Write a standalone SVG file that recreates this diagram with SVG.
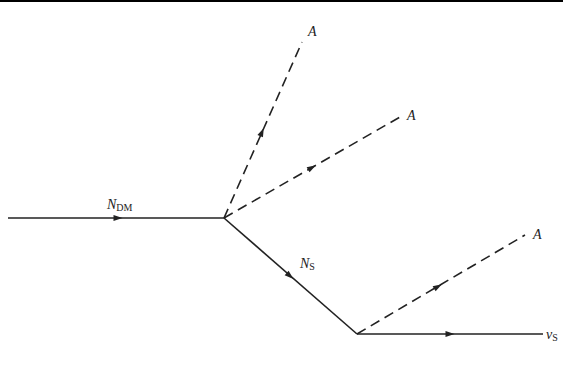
<svg xmlns="http://www.w3.org/2000/svg" xmlns:xlink="http://www.w3.org/1999/xlink" width="563" height="388" viewBox="0 0 563 388">
<style>
.solid{stroke:#222;stroke-width:1.6;fill:none}
.dash{stroke:#222;stroke-width:1.6;fill:none;stroke-dasharray:10 6}
.lbl{font-family:"Liberation Serif",serif;font-style:italic;font-size:14px;fill:#222}
.sub{font-family:"Liberation Serif",serif;font-style:normal;font-size:10px;fill:#222}
</style>
<defs>
<path id="ah" d="M-4.5,-3 L4.5,0 L-4.5,3 Z" fill="#222"/>
</defs>
<rect x="0" y="0" width="563" height="388" fill="#fff"/>
<rect x="0" y="0" width="563" height="2" fill="#000"/>
<g id="connectors">
<line class="solid" x1="8" y1="218" x2="224" y2="218"/>
<line class="dash" x1="224" y1="218" x2="302" y2="42"/>
<line class="dash" x1="224" y1="218" x2="400" y2="117"/>
<line class="solid" x1="224" y1="218" x2="357" y2="334"/>
<line class="dash" x1="357" y1="334" x2="525" y2="235"/>
<line class="solid" x1="357" y1="334" x2="543" y2="334"/>
<use xlink:href="#ah" transform="translate(118,218)"/>
<use xlink:href="#ah" transform="translate(262,132) rotate(-66.1)"/>
<use xlink:href="#ah" transform="translate(312,167.5) rotate(-29.9)"/>
<use xlink:href="#ah" transform="translate(290,276) rotate(41.1)"/>
<use xlink:href="#ah" transform="translate(438,286.5) rotate(-30.5)"/>
<use xlink:href="#ah" transform="translate(450,334)"/>
</g>
<g id="label-ndm"><text class="lbl" x="107" y="209">N<tspan class="sub" dy="2">DM</tspan></text></g>
<g id="label-a1"><text class="lbl" x="308" y="36">A</text></g>
<g id="label-a2"><text class="lbl" x="407" y="120">A</text></g>
<g id="label-ns"><text class="lbl" x="300" y="268">N<tspan class="sub" dy="2">S</tspan></text></g>
<g id="label-a3"><text class="lbl" x="533" y="239">A</text></g>
<g id="label-nus"><text class="lbl" x="546" y="339">ν<tspan class="sub" dy="2">S</tspan></text></g>
</svg>
